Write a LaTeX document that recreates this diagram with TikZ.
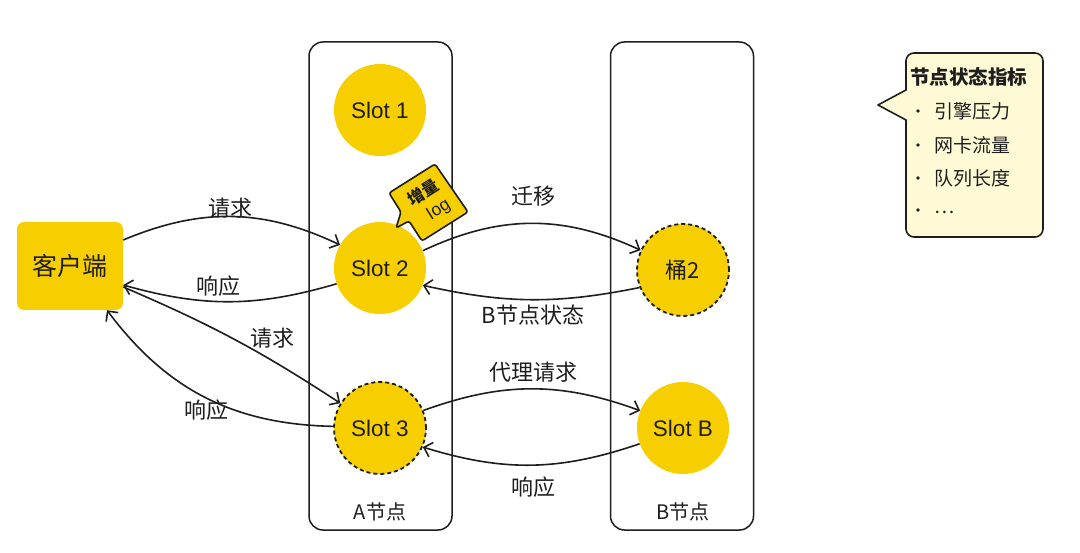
\documentclass[tikz,border=0pt]{standalone}
\usepackage{fontspec}
\setmainfont{Liberation Sans}
\newfontfamily\cjk{Noto Sans CJK SC}
\usetikzlibrary{arrows.meta}
\definecolor{slotyellow}{RGB}{247,207,0}
\definecolor{legendfill}{RGB}{254,250,214}
\definecolor{ink}{RGB}{30,30,30}
\begin{document}
\begin{tikzpicture}[x=1pt,y=1pt,
  slot/.style={circle, fill=slotyellow, minimum size=92pt, inner sep=0pt, font=\fontsize{22.5}{26}\selectfont, text=ink},
  dslot/.style={slot, draw=ink, line width=1.8pt, dash pattern=on 4pt off 3pt},
  container/.style={draw=ink, line width=1.5pt, rounded corners=14pt, minimum width=143pt, minimum height=488pt, inner sep=0pt},
  clientbox/.style={fill=slotyellow, rounded corners=7pt, minimum width=106pt, minimum height=88pt, inner sep=0pt, font=\cjk\fontsize{25}{29}\selectfont, text=ink},
  lbl/.style={font=\cjk\fontsize{22}{26}\selectfont, text=ink, inner sep=1pt},
  legtext/.style={font=\cjk\fontsize{19}{23}\selectfont, text=ink, anchor=west, inner sep=0pt},
  tagtext/.style={rotate=32, text=ink, inner sep=0pt},
  flow/.style={draw=ink, line width=1.6pt, -{Straight Barb[length=7.5pt,width=15pt,line width=1.6pt]}},
]
\useasboundingbox (0,0) rectangle (1080,-553);
\fill[white] (0,0) rectangle (1080,-553);

% containers
\node[container] (A) at (380.5,-286) {};
\node[container] (B) at (682,-286) {};
\node[lbl, font=\cjk\fontsize{20}{24}\selectfont] (Alabel) at (380,-512) {A节点};
\node[lbl, font=\cjk\fontsize{20}{24}\selectfont] (Blabel) at (683,-512) {B节点};

% client
\node[clientbox] (client) at (70,-266) {客户端};

% slots
\node[slot] (slot1) at (380,-110) {Slot 1};
\node[slot] (slot2) at (380,-268) {Slot 2};
\node[dslot] (slot3) at (380,-428) {Slot 3};
\node[dslot, font=\cjk\fontsize{22}{26}\selectfont] (bucket2) at (683,-270) {桶2};
\node[slot] (slotB) at (683,-428) {Slot B};

% callout
\draw[fill=slotyellow, draw=ink, line width=1.6pt, line join=round, rounded corners=2.5pt]
  (389,-193) -- (435,-164) -- (468,-212) -- (422,-241) -- (409,-221) -- (396,-228) -- (401,-212) -- cycle;
\node[tagtext, font=\cjk\bfseries\fontsize{16.5}{18}\selectfont] (tag1) at (423,-192) {增量};
\node[tagtext, font=\fontsize{17.5}{19}\selectfont] (tag2) at (439,-210) {log};

% arrows
\draw[flow] ([yshift=26pt]client.east) to[bend left=24] (slot2.150);
\draw[flow] (slot2.200) to[bend left=16] ([yshift=-19pt]client.east);
\draw[flow] ([yshift=-21pt]client.east) to[bend left=5] (slot3.148);
\draw[flow] (slot3.178) to[bend left=26] ([xshift=37pt]client.south);
\draw[flow] (slot2.22) to[bend left=25] (bucket2.155);
\draw[flow] (bucket2.202) to[bend left=12] (slot2.338);
\draw[flow] (slot3.22) to[bend left=20] (slotB.158);
\draw[flow] (slotB.200) to[bend left=18] (slot3.336);

% edge labels
\node[lbl] (req1) at (230,-208) {请求};
\node[lbl] (resp1) at (218,-286) {响应};
\node[lbl] (req2) at (272,-338) {请求};
\node[lbl] (resp2) at (206,-410) {响应};
\node[lbl] (migrate) at (533,-196) {迁移};
\node[lbl] (bstate) at (533,-315) {B节点状态};
\node[lbl] (proxy) at (533,-372) {代理请求};
\node[lbl] (resp3) at (533,-487) {响应};

% legend
\draw[fill=legendfill, draw=ink, line width=1.6pt, line join=round]
  (906,-120) [rounded corners=8pt] -- (906,-237) -- (1043,-237) -- (1043,-53) -- (906,-53) [sharp corners] -- (906,-90) -- (878,-105) -- cycle;
\node[font=\cjk\bfseries\fontsize{19.5}{23}\selectfont, text=ink, anchor=west, inner sep=0pt] (legtitle) at (910,-77) {节点状态指标};
\fill[ink] (918,-111) circle (1.9pt);
\fill[ink] (918,-145) circle (1.9pt);
\fill[ink] (918,-178) circle (1.9pt);
\fill[ink] (918,-210) circle (1.9pt);
\node[legtext] (item1) at (934,-111) {引擎压力};
\node[legtext] (item2) at (934,-145) {网卡流量};
\node[legtext] (item3) at (934,-178) {队列长度};
\node[legtext] (item4) at (934,-212) {…};
\end{tikzpicture}
\end{document}
